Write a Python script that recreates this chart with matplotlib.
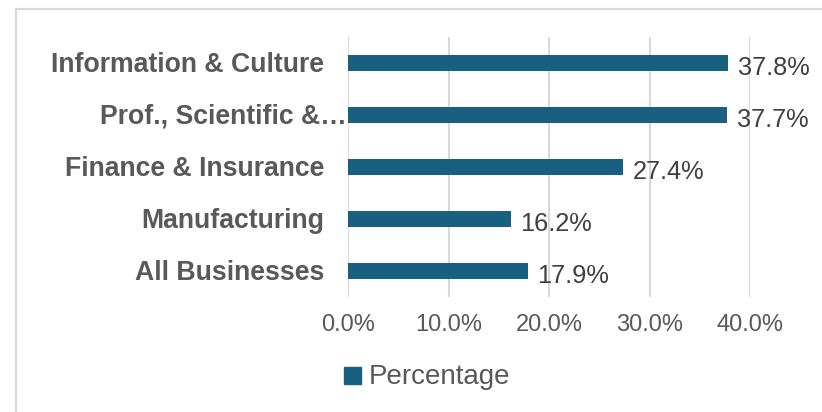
import matplotlib
matplotlib.use("Agg")
import matplotlib.pyplot as plt
from matplotlib.lines import Line2D
from matplotlib.patches import Rectangle

categories = ["Information & Culture", "Prof., Scientific &\u2026", "Finance & Insurance",
              "Manufacturing", "All Businesses"]
values = [37.8, 37.7, 27.4, 16.2, 17.9]
xticks = [0, 10, 20, 30, 40]
xtick_labels = ["0.0%", "10.0%", "20.0%", "30.0%", "40.0%"]
series_name = "Percentage"

BAR = "#195f80"
GRID = "#d9d9d9"
W, H = 822, 412

plt.rcParams["font.family"] = ["Liberation Sans", "DejaVu Sans"]

fig = plt.figure(figsize=(W / 100, H / 100), dpi=100)
fig.patch.set_facecolor("white")

# chart frame (top and left edges visible)
fig.add_artist(Line2D([16 / W, 1.0], [1 - 9 / H, 1 - 9 / H], color=GRID, lw=1.6,
                      transform=fig.transFigure))
fig.add_artist(Line2D([16 / W, 16 / W], [1 - 9 / H, 0.0], color=GRID, lw=1.6,
                      transform=fig.transFigure))

left, right, top, bottom = 348, 750, 37, 297
ax = fig.add_axes([left / W, 1 - bottom / H, (right - left) / W, (bottom - top) / H])

n = len(categories)
ypos = list(range(n))
ax.barh(ypos, values, height=0.31, color=BAR, zorder=3)
ax.set_xlim(0, 40)
ax.set_ylim(n - 0.5, -0.5)

ax.set_xticks(xticks)
ax.set_xticklabels(xtick_labels, fontsize=17, color="#595959")
ax.tick_params(axis="x", length=0, pad=12.5)
ax.set_yticks([])
ax.grid(axis="x", color=GRID, lw=1.5, zorder=0)
for s in ax.spines.values():
    s.set_visible(False)

# category labels, right-aligned against the value axis
label_pad = [-24, -1, -24, -24, -24]
for y, name, dx in zip(ypos, categories, label_pad):
    ax.annotate(name, xy=(0, y), xytext=(dx * 0.72, -1.3), textcoords="offset points",
                ha="right", va="center", fontsize=19.2, fontweight="bold",
                color="#595959", annotation_clip=False)

# value labels
for y, v in zip(ypos, values):
    ax.annotate(f"{v:.1f}%", xy=(v, y), xytext=(7, -3.3), textcoords="offset points",
                ha="left", va="center", fontsize=18.3, color="#404040",
                annotation_clip=False)

# legend
fig.add_artist(Rectangle((344 / W, 1 - 384 / H), 17 / W, 17 / H, color=BAR,
                         transform=fig.transFigure))
fig.text(369 / W, 1 - 377 / H, series_name, fontsize=20, color="#595959",
         ha="left", va="center")

fig.savefig("out.png", dpi=100, facecolor="white")
